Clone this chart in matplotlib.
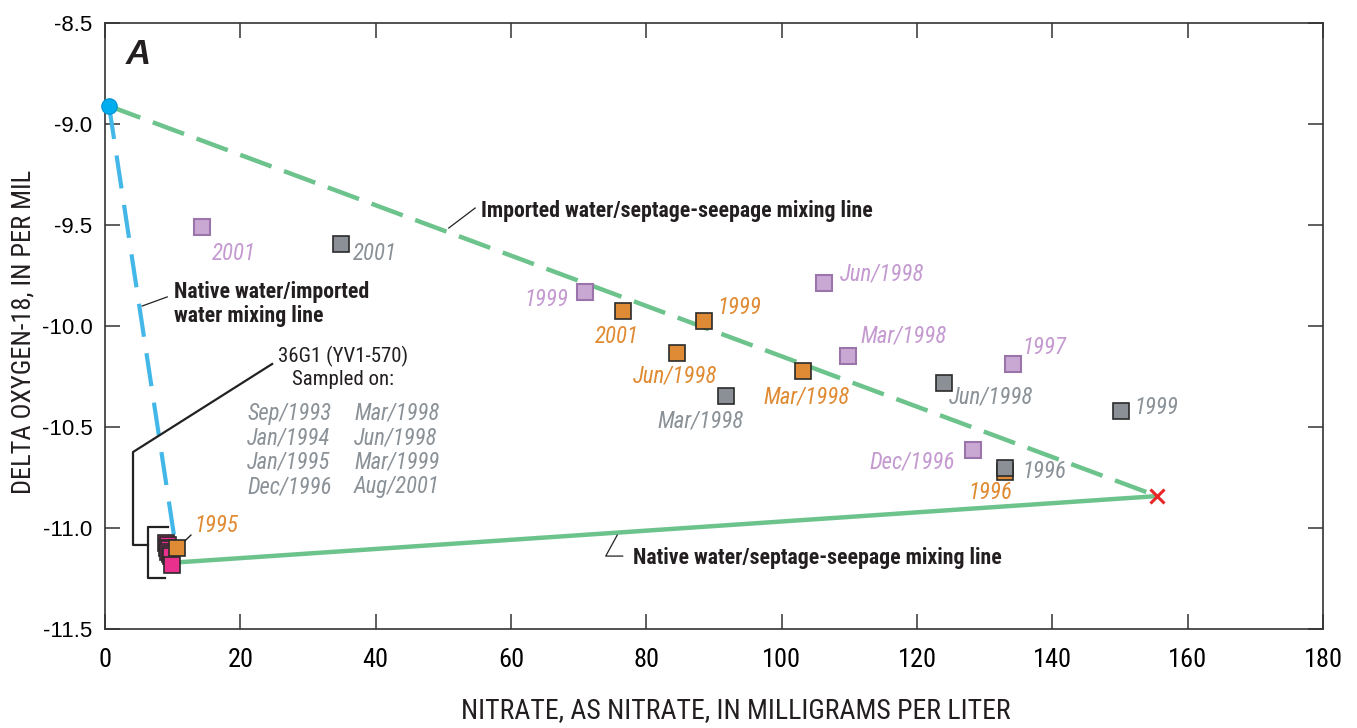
import matplotlib
matplotlib.use("Agg")
import matplotlib.pyplot as plt
from matplotlib import font_manager

names = {f.name for f in font_manager.fontManager.ttflist}
cond_entries = [f for f in font_manager.fontManager.ttflist
                if f.stretch in ('condensed', 'semi-condensed') or 'Condensed' in f.fname or 'Narrow' in f.fname]
if 'Liberation Sans Narrow' in names:
    NARROW = dict(family=['Liberation Sans Narrow', 'DejaVu Sans'])
elif 'Roboto Condensed' in names:
    NARROW = dict(family=['Roboto Condensed', 'DejaVu Sans'])
elif any(f.name == 'DejaVu Sans' for f in cond_entries):
    NARROW = dict(family=['DejaVu Sans'], stretch='condensed')
else:
    NARROW = dict(family=['Liberation Sans', 'DejaVu Sans'])
REG = ['Liberation Sans', 'DejaVu Sans']

# ---------------- data ----------------
purple_x = [14.3, 70.9, 106.2, 109.8, 134.2, 128.3]
purple_y = [-9.51, -9.832, -9.787, -10.148, -10.188, -10.614]
purple_lab = ['2001', '1999', 'Jun/1998', 'Mar/1998', '1997', 'Dec/1996']

gray_x = [34.9, 91.8, 124.0, 150.1, 133.0]
gray_y = [-9.594, -10.347, -10.282, -10.421, -10.705]
gray_lab = ['2001', 'Mar/1998', 'Jun/1998', '1999', '1996']

orange_x = [76.5, 88.5, 84.5, 103.1, 133.0, 10.6]
orange_y = [-9.926, -9.975, -10.134, -10.223, -10.722, -11.099]
orange_lab = ['2001', '1999', 'Jun/1998', 'Mar/1998', '1996', '1995']

pink_x = [9.0, 9.3, 9.1, 9.5, 9.3, 9.6, 9.8, 9.97]
pink_y = [-11.075, -11.085, -11.10, -11.105, -11.12, -11.13, -11.14, -11.183]

imported = (0.6, -8.911)      # imported water end member
septage = (155.5, -10.842)    # septage-seepage end member
native = (10.8, -11.17)       # native water end member

sample_dates = [['Sep/1993', 'Jan/1994', 'Jan/1995', 'Dec/1996'],
                ['Mar/1998', 'Jun/1998', 'Mar/1999', 'Aug/2001']]

xticks = [0, 20, 40, 60, 80, 100, 120, 140, 160, 180]
yticks = [-8.5, -9.0, -9.5, -10.0, -10.5, -11.0, -11.5]

# ---------------- colours ----------------
GREEN = '#6cc38b'
BLUE = '#43b8e8'
C_PUR_F, C_PUR_E, C_PUR_T = '#c9a8d4', '#9a74ab', '#c49ad0'
C_GRY_F, C_GRY_T = '#8a9095', '#8a9197'
C_ORA_F, C_ORA_T = '#df8b35', '#e08b33'
C_PINK = '#e8308c'
EDGE = '#2b2b2b'
INK = '#231f20'

fig = plt.figure(figsize=(13.57, 7.28), dpi=100)
ax = fig.add_axes([105/1357, 1-629/728, (1323-105)/1357, (629-23)/728])
ax.set_xlim(0, 180)
ax.set_ylim(-11.5, -8.5)

# mixing lines
ax.plot([imported[0], septage[0]], [imported[1], septage[1]], color=GREEN, lw=3.2,
        linestyle=(0, (7.5, 3.0)), dash_capstyle='butt', zorder=2)
ax.plot([native[0], septage[0]], [native[1], septage[1]], color=GREEN, lw=3.2,
        solid_capstyle='butt', zorder=2)
ax.plot([imported[0], native[0]], [imported[1], native[1]], color=BLUE, lw=3.0,
        linestyle=(0, (8.0, 4.0)), dash_capstyle='butt', zorder=2)

# end members
ax.plot([imported[0]], [imported[1]], 'o', ms=11, mfc='#00aeef', mec='#0098d8', mew=1, zorder=6, clip_on=False)
ax.plot([septage[0]], [septage[1]], 'x', ms=10, mew=2.2, color='#e8262a', zorder=6)

MS = 11
ax.plot(pink_x, pink_y, 's', ms=MS, mfc=C_PINK, mec=EDGE, mew=1.2, ls='none', zorder=4)
ax.plot(purple_x, purple_y, 's', ms=MS, mfc=C_PUR_F, mec=C_PUR_E, mew=1.5, ls='none', zorder=4)
ax.plot(orange_x, orange_y, 's', ms=MS, mfc=C_ORA_F, mec=EDGE, mew=1.2, ls='none', zorder=5)
ax.plot(gray_x, gray_y, 's', ms=MS, mfc=C_GRY_F, mec=EDGE, mew=1.2, ls='none', zorder=6)

LFS = 16.5
def lab(x, y, s, color, dx, dy, ha):
    # dx, dy in pixels (dy positive downward)
    ax.annotate(s, (x, y), xytext=(dx*0.72, -dy*0.72), textcoords='offset points',
                ha=ha, va='center', fontsize=LFS, style='italic', color=color,
                zorder=7, **NARROW)

pur_off = [(10, 26, 'left'), (-16, 7, 'right'), (16, -9, 'left'), (12, -20, 'left'),
           (9, -16, 'left'), (-18, 12, 'right')]
gry_off = [(12, 10, 'left'), (-26, 25, 'center'), (5, 14, 'left'), (14, -4, 'left'), (17, 3, 'left')]
ora_off = [(-6, 25, 'center'), (13, -13, 'left'), (-2, 23, 'center'), (4, 26, 'center'),
           (-15, 21, 'center'), (18, -22, 'left')]
for x, y, s, o in zip(purple_x, purple_y, purple_lab, pur_off):
    lab(x, y, s, C_PUR_T, *o)
for x, y, s, o in zip(gray_x, gray_y, gray_lab, gry_off):
    lab(x, y, s, C_GRY_T, *o)
for x, y, s, o in zip(orange_x, orange_y, orange_lab, ora_off):
    lab(x, y, s, C_ORA_T, *o)

# mixing-line annotations
BFS = 15.7
ax.plot([50.8, 54.7], [-9.515, -9.416], color='#222222', lw=0.9, zorder=3)
ax.text(55.6, -9.431, 'Imported water/septage-seepage mixing line', fontsize=BFS,
        fontweight='bold', va='center', ha='left', color=INK, **NARROW)
ax.plot([5.5, 9.2], [-9.901, -9.856], color='#222222', lw=0.9, zorder=3)
ax.text(10.2, -9.832, 'Native water/imported', fontsize=BFS, fontweight='bold',
        va='center', ha='left', color=INK, **NARROW)
ax.text(10.2, -9.95, 'water mixing line', fontsize=BFS, fontweight='bold',
        va='center', ha='left', color=INK, **NARROW)
ax.plot([75.7, 74.0, 76.5], [-11.035, -11.139, -11.139], color='#222222', lw=0.9, zorder=3)
ax.text(78.0, -11.149, 'Native water/septage-seepage mixing line', fontsize=BFS,
        fontweight='bold', va='center', ha='left', color=INK, **NARROW)

# 1995 leader
ax.plot([11.8, 12.7], [-11.064, -11.035], color='#222222', lw=1.0, zorder=6)

# well annotation and bracket
ax.plot([24.7, 4.14, 4.14, 6.35], [-10.188, -10.624, -11.084, -11.084], color='#222222', lw=1.6, zorder=3)
ax.plot([9.3, 6.35, 6.35, 8.87], [-10.995, -10.995, -11.248, -11.248], color='#222222', lw=1.6, zorder=3)
ax.text(35.2, -10.153, '36G1 (YV1-570)', fontsize=15, ha='center', va='center', color=INK, **NARROW)
ax.text(35.2, -10.267, 'Sampled on:', fontsize=15, ha='center', va='center', color=INK, **NARROW)
row_y = [-10.431, -10.554, -10.673, -10.797]
col_x = [21.0, 36.8]
for cx, col in zip(col_x, sample_dates):
    for ry, s in zip(row_y, col):
        ax.text(cx, ry, s, fontsize=16.3, style='italic', ha='left',
                va='center', color=C_GRY_T, **NARROW)

ax.text(3.0, -8.658, 'A', fontsize=25, fontweight='bold', style='italic', family=REG,
        ha='left', va='center', color=INK)

# axes styling
for sp in ax.spines.values():
    sp.set_linewidth(1.2)
    sp.set_color('#333333')
ax.set_xticks(xticks)
ax.set_yticks(yticks)
ax.set_xticklabels([str(t) for t in xticks], fontsize=19, **NARROW)
ax.set_yticklabels(['%.1f' % t for t in yticks], family=REG, fontsize=16)
ax.tick_params(direction='in', length=10.5, width=1.1, color='#333333', top=True, right=True)
ax.tick_params(axis='x', pad=14)
ax.tick_params(axis='y', pad=9)
ax.set_xlabel('NITRATE, AS NITRATE, IN MILLIGRAMS PER LITER', fontsize=20,
              color=INK, **NARROW)
ax.set_ylabel('DELTA OXYGEN-18, IN PER MIL', fontsize=19, color=INK, **NARROW)
ax.xaxis.set_label_coords(0.518, -0.113)
ax.yaxis.set_label_coords(-0.057, 0.49)

fig.savefig('out.png', dpi=100)
